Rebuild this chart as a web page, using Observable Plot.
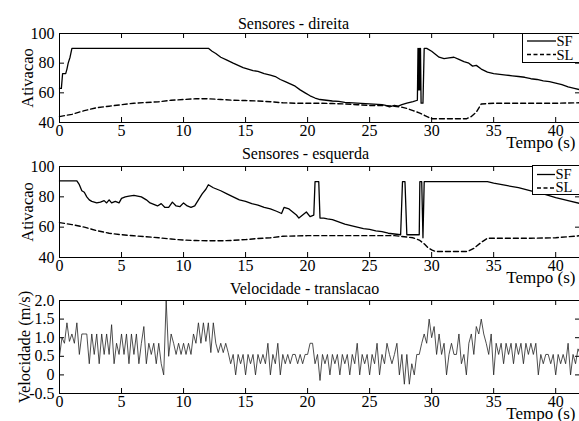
<!DOCTYPE html>
<html><head><meta charset="utf-8">
<script src="https://cdn.jsdelivr.net/npm/d3@7"></script>
<script src="https://cdn.jsdelivr.net/npm/@observablehq/plot@0.6"></script>
<style>
html,body{margin:0;padding:0;background:#fff;overflow:hidden;}
#wrap{position:relative;width:579px;height:421px;overflow:hidden;background:#fff;font-family:"Liberation Serif","Times New Roman",Times,"DejaVu Serif",serif;}
#wrap > svg{position:absolute;left:0;top:0;}
#wrap svg, #wrap svg text, #wrap svg tspan{font-family:"Liberation Serif","Times New Roman",Times,"DejaVu Serif",serif !important;}
.legend{position:absolute;background:#fff;border:1px solid #000;box-sizing:border-box;}
.legend svg{display:block;overflow:visible;}
</style></head><body><div id="wrap"></div>
<script>
// ---- tick values / labels ----
const timeTicks = [0, 5, 10, 15, 20, 25, 30, 35, 40];
const ativTicks = [40, 60, 80, 100];
const velTicks = [-0.5, 0, 0.5, 1.0, 1.5, 2.0];
const velTickLabels = ["-0.5", "0", "0.5", "1.0", "1.5", "2.0"];

// ---- Sensores - direita ----
const direitaSF = [[0,63],[0.15,63],[0.25,73],[0.5,73],[0.6,76],[0.7,80],[0.85,84],[1.0,90],[12.0,90],[12.3,88],[12.6,86.5],[13,84],[13.5,82],[14,80],[14.4,78.5],[14.8,77],[15.2,76],[15.6,75],[16,74.5],[16.5,73],[17,72],[17.4,71],[17.8,69],[18.2,67.5],[18.6,66],[19,64.5],[19.4,62],[19.8,60],[20.2,58],[20.6,56.5],[21,55.5],[21.5,55],[22,54.5],[22.5,54.2],[23,53.5],[24,53],[25,52.5],[26,52],[26.3,51.5],[26.6,50.5],[27,51.5],[27.3,51],[27.6,52],[28,53],[28.5,54],[28.85,55],[28.9,90],[28.95,62],[29.0,90],[29.05,62],[29.1,90],[29.15,53],[29.3,53],[29.4,90],[29.6,90],[30,88],[30.3,86],[30.6,84],[31,83],[31.4,83.5],[31.8,84],[32.2,82.5],[32.6,81],[33,80],[33.3,78],[33.6,78.5],[34,76],[34.5,74],[35,73],[35.5,72.5],[36,72],[36.5,71.5],[37,71],[37.5,70.5],[38,69.5],[38.5,69],[39,68],[39.5,67.5],[40,66.5],[40.5,65.5],[41,64],[41.5,63],[42,62]];
const direitaSL = [[0,44],[1,45.5],[2,48],[3,50],[4,51],[5,52],[6,53],[7,53.5],[8,54],[9,55],[10,55.5],[11,56],[12,56],[13,55.5],[14,55],[15,54.8],[16,54.5],[17,54],[18,53.3],[19,53],[20,53],[21,53],[22,52.8],[23,52.5],[24,52],[25,51.5],[26,51.5],[27,51],[27.5,50.5],[28,49.5],[28.5,48],[29,46.5],[29.5,44.5],[30,42.5],[31,42.5],[32,42.5],[32.8,42.5],[33.2,44],[33.6,47],[34,52.5],[35,53],[36,53],[38,53],[40,53],[42,53.3]];

// ---- Sensores - esquerda ----
const esquerdaSF = [[0,90.5],[1.4,90.5],[1.6,88],[1.8,84],[2.0,83],[2.2,80],[2.4,78],[2.6,77],[2.8,76.5],[3.0,76],[3.3,76.5],[3.6,77.5],[3.8,76],[4.0,78],[4.2,76],[4.5,77],[4.8,76],[5.0,79],[5.3,80],[5.6,80.5],[6.0,81],[6.3,80.5],[6.6,80],[7.0,78],[7.3,76],[7.6,75],[7.9,74],[8.2,75.5],[8.5,73],[8.8,73],[9.1,76.5],[9.4,74],[9.7,73.5],[10.0,76],[10.3,74],[10.6,73],[10.9,74],[11.2,78],[11.5,82],[11.8,85],[12.0,88],[12.4,86],[13,84],[13.5,82],[14,80],[14.5,78],[15,77],[15.5,75.5],[16,74.5],[16.5,73],[17,72],[17.5,70.5],[17.9,69],[18.1,73],[18.5,72],[18.8,70],[19.1,68],[19.3,66],[19.6,68],[19.9,70],[20.2,67],[20.5,68],[20.6,90],[20.9,90],[21.0,66],[21.3,66],[21.6,65.5],[22,65],[22.5,63.5],[23,62],[23.5,61],[24,60],[24.5,59],[25,58.5],[25.5,57.5],[26,57],[26.5,56],[27,55.5],[27.5,55],[27.65,90],[27.85,90],[28.0,55],[28.5,55],[29.0,55],[29.05,90],[29.2,90],[29.3,53],[29.4,90],[34.5,90],[35,89],[36,87.5],[37,86],[38,84],[39,82],[40,79.5],[41,77.5],[42,75.5]];
const esquerdaSL = [[0,63],[1,61.7],[2,60],[3,57.7],[4,56],[5,55],[6,54.3],[7,53.7],[8,53],[9,52.2],[10,51.5],[11,51.2],[12,51],[13,51],[14,51.3],[15,51.8],[16,52.5],[17,53],[18,54],[19,54.2],[20,54.4],[22,54.4],[24,54.4],[26,54.4],[27,54.4],[28,53.5],[28.5,53],[29,51.5],[29.4,49],[29.7,46.5],[30,45],[30.3,44],[31,44],[32,44],[32.9,44],[33.4,46],[34,50],[34.5,52.7],[36,52.7],[38,52.7],[40,53],[42,54.4]];

// ---- Velocidade - translacao (sampled every 0.2 s) ----
const velStep = 0.2;
const velocidade = [
  0.5,1.0,0.85,1.4,0.9,1.1,0.85,1.4,0.55,1.1,
  1.1,1.1,0.3,1.1,0.55,1.1,0.3,1.1,0.55,1.1,
  0.55,1.35,0.3,0.85,0.55,1.1,0.55,1.1,0.3,1.1,
  0.55,1.1,0.3,0.85,1.3,0.3,0.85,0.55,0.85,0.3,
  0.85,0.3,0.0,2.0,0.5,1.1,0.85,0.55,0.85,0.55,
  0.85,0.55,0.85,0.55,1.1,0.85,1.4,0.85,1.4,0.9,
  1.4,0.6,1.4,0.85,0.6,0.85,0.6,0.85,0.6,0.3,
  0.55,0.0,0.55,0.3,0.55,0.0,0.55,0.3,0.55,0.0,
  0.55,0.3,0.55,0.3,0.85,0.0,0.55,0.3,0.85,0.0,
  0.55,0.3,0.55,0.3,0.55,0.55,0.3,0.55,0.3,0.55,
  0.55,0.85,0.85,0.3,0.55,-0.15,0.55,0.3,0.55,0.0,
  0.55,0.3,0.55,0.0,0.55,0.3,0.55,0.0,0.55,0.3,
  0.85,0.0,0.55,0.3,0.55,0.0,0.55,0.3,0.85,0.0,
  0.55,0.3,0.85,0.55,0.3,0.55,0.85,0.0,0.55,-0.25,
  0.55,-0.25,0.3,0.0,0.55,0.55,0.85,1.1,0.85,1.5,
  1.0,1.3,0.55,1.1,0.55,0.85,0.0,0.55,0.85,0.55,
  0.55,1.1,0.3,0.55,0.0,0.85,1.1,0.55,1.3,1.1,
  1.5,1.1,0.85,0.55,1.1,0.0,0.85,0.55,0.85,0.3,
  0.85,0.55,0.85,0.3,0.85,0.55,0.85,0.3,0.85,0.55,
  0.85,0.55,0.85,0.0,0.55,0.3,0.55,0.55,0.3,0.55,
  0.0,0.55,0.3,0.55,0.3,0.85,0.0,0.55,0.3,0.7,
  0.55
];

const FONT = '"Liberation Serif","Times New Roman",Times,"DejaVu Serif",serif';
const W = 600, H = 421, ML = 59, MR = 20;

function panel(o) {
  const frameH = o.bottom - o.top, frameW = W - ML - MR;
  return Plot.plot({
    width: W, height: H,
    marginLeft: ML, marginRight: MR, marginTop: o.top, marginBottom: H - o.bottom,
    style: {background: "transparent", maxWidth: "none", fontFamily: FONT, fontSize: "15px", color: "#000"},
    x: {domain: [0, 42]},
    y: {domain: o.yDomain},
    marks: [
      ...o.marks,
      Plot.ruleX(timeTicks, {x: d => d, insetTop: frameH - 5, stroke: "#000"}),
      Plot.ruleX(timeTicks, {x: d => d, insetBottom: frameH - 5, stroke: "#000"}),
      Plot.ruleY(o.yTicks, {y: d => d, insetRight: frameW - 5, stroke: "#000"}),
      Plot.ruleY(o.yTicks, {y: d => d, insetLeft: frameW - 5, stroke: "#000"}),
      Plot.frame({stroke: "#000"}),
      Plot.axisX({ticks: timeTicks, tickSize: 0, tickPadding: 2, label: null, fontSize: 16, fill: "#000", tickFormat: d => String(d)}),
      Plot.axisY({ticks: o.yTicks, tickSize: 0, tickPadding: 5, label: null, fontSize: 16, fill: "#000", tickFormat: o.yFormat}),
      Plot.text([o.title], {text: d => d, frameAnchor: "top-left", dx: o.titleX - ML, dy: o.titleBase - o.top, textAnchor: "middle", lineAnchor: "bottom", fontSize: 16}),
      Plot.text([o.ylabel], {text: d => d, frameAnchor: "left", dx: o.ylabelBase - ML, rotate: -90, textAnchor: "middle", lineAnchor: "bottom", fontSize: 16.5}),
      Plot.text(["Tempo (s)"], {text: d => d, frameAnchor: "bottom-right", dx: -5, dy: 25, textAnchor: "end", lineAnchor: "bottom", fontSize: 17})
    ]
  });
}

const wrap = document.getElementById("wrap");
const dash = "5,3";

wrap.appendChild(panel({
  top: 33, bottom: 122, yDomain: [40, 100], yTicks: ativTicks, yFormat: d => String(d),
  title: "Sensores - direita", titleX: 293, titleBase: 28, ylabel: "Ativacao", ylabelBase: 32,
  marks: [
    Plot.line(direitaSL, {x: d => d[0], y: d => d[1], stroke: "#000", strokeWidth: 1.4, strokeDasharray: dash}),
    Plot.line(direitaSF, {x: d => d[0], y: d => d[1], stroke: "#000", strokeWidth: 1.3})
  ]
}));

wrap.appendChild(panel({
  top: 166, bottom: 257, yDomain: [40, 100], yTicks: ativTicks, yFormat: d => String(d),
  title: "Sensores - esquerda", titleX: 305, titleBase: 158, ylabel: "Ativacao", ylabelBase: 32,
  marks: [
    Plot.line(esquerdaSL, {x: d => d[0], y: d => d[1], stroke: "#000", strokeWidth: 1.4, strokeDasharray: dash}),
    Plot.line(esquerdaSF, {x: d => d[0], y: d => d[1], stroke: "#000", strokeWidth: 1.3})
  ]
}));

const velData = velocidade.map((v, i) => ({t: i * velStep, v}));
wrap.appendChild(panel({
  top: 300, bottom: 393, yDomain: [-0.5, 2.0], yTicks: velTicks,
  yFormat: d => velTickLabels[velTicks.indexOf(d)],
  title: "Velocidade - translacao", titleX: 304, titleBase: 293, ylabel: "Velocidade (m/s)", ylabelBase: 29,
  marks: [
    Plot.line(velData, {x: "t", y: "v", stroke: "#222", strokeWidth: 0.8})
  ]
}));

// ---- legends ----
function legend(left, top, width, height, lineX1, lineX2, textX, rows) {
  const div = document.createElement("div");
  div.className = "legend";
  Object.assign(div.style, {left: left + "px", top: top + "px", width: width + "px", height: height + "px"});
  const ns = "http://www.w3.org/2000/svg";
  const svg = document.createElementNS(ns, "svg");
  svg.setAttribute("width", width - 2); svg.setAttribute("height", height - 2);
  for (const r of rows) {
    const ln = document.createElementNS(ns, "line");
    ln.setAttribute("x1", lineX1); ln.setAttribute("x2", lineX2);
    ln.setAttribute("y1", r.lineY); ln.setAttribute("y2", r.lineY);
    ln.setAttribute("stroke", "#000"); ln.setAttribute("stroke-width", 1.3);
    if (r.dashed) ln.setAttribute("stroke-dasharray", "4,2.5");
    svg.appendChild(ln);
    const tx = document.createElementNS(ns, "text");
    tx.setAttribute("x", textX); tx.setAttribute("y", r.base);
    tx.setAttribute("font-size", 14.5);
    tx.textContent = r.label;
    svg.appendChild(tx);
  }
  div.appendChild(svg);
  wrap.appendChild(div);
}
const seriesNames = ["SF", "SL"];
legend(522, 33, 58, 30, 4, 33, 33.5, [
  {label: seriesNames[0], lineY: 7, base: 12, dashed: false},
  {label: seriesNames[1], lineY: 20.5, base: 25.5, dashed: true}
]);
legend(532, 165, 48, 30, 4, 22, 22.5, [
  {label: seriesNames[0], lineY: 8.5, base: 12.5, dashed: false},
  {label: seriesNames[1], lineY: 22, base: 25.5, dashed: true}
]);
</script>
</body></html>
